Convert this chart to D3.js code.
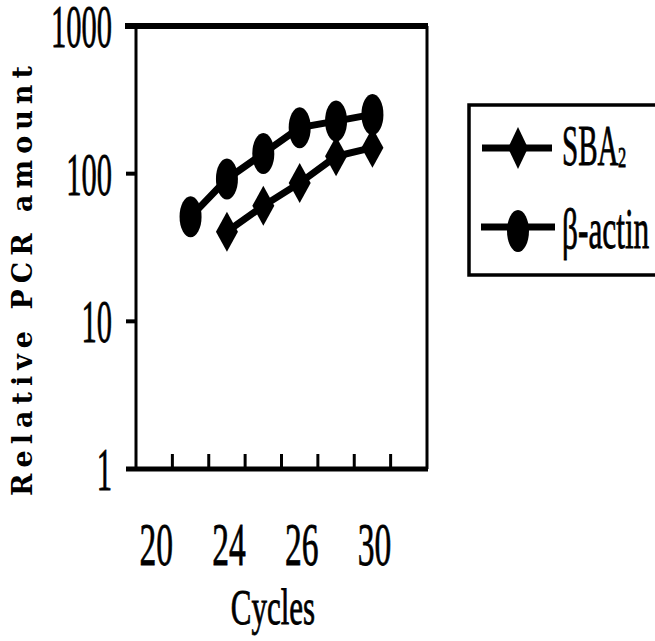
<!DOCTYPE html>
<meta charset="utf-8">
<style>
  body { margin: 0; background: #fff; }
  text { font-family: "Liberation Serif", "Times New Roman", serif; fill: #000; }
</style>
<svg width="655" height="641"></svg>
<script src="https://cdn.jsdelivr.net/npm/d3@7"></script>
<script>

var cycles = ["20", "22", "24", "25", "26", "28", "30", "32"];
var cycleLabels = ["20", "24", "26", "30"];
var yTicks = [1, 10, 100, 1000];

var actinCycles = ["22", "24", "25", "26", "28", "30"];
var actinValues = [51, 92, 137, 205, 227, 252];

var sbaCycles = ["24", "25", "26", "28", "30"];
var sbaValues = [40.5, 60.6, 86.5, 131, 150];

var svg = d3.select("svg");

var plotLeft = 136, plotRight = 427, plotTop = 26, plotBottom = 469;

var x = d3.scaleBand().domain(cycles).range([plotLeft, plotRight]).padding(0);
var y = d3.scaleLog().domain([1, 1000]).range([plotBottom, plotTop]);

// squeezed serif text, like the scanned figure
function narrowText(g, px, py, str, size, sx, anchor) {
  return g.append("text")
    .attr("transform", "translate(" + px + "," + py + ") scale(" + sx + ",1)")
    .attr("text-anchor", anchor || "middle")
    .style("font-size", size + "px")
    .style("stroke", "#000").style("stroke-width", 0.8)
    .text(str);
}

// frame
svg.append("line").attr("x1", plotLeft - 11).attr("x2", plotRight + 1).attr("y1", plotTop).attr("y2", plotTop)
  .attr("stroke", "#000").attr("stroke-width", 6);
svg.append("line").attr("x1", plotRight).attr("x2", plotRight).attr("y1", plotTop).attr("y2", plotBottom)
  .attr("stroke", "#000").attr("stroke-width", 3);
svg.append("line").attr("x1", plotLeft).attr("x2", plotLeft).attr("y1", plotTop).attr("y2", plotBottom)
  .attr("stroke", "#000").attr("stroke-width", 3);
svg.append("line").attr("x1", plotLeft - 10).attr("x2", plotRight + 1).attr("y1", plotBottom).attr("y2", plotBottom)
  .attr("stroke", "#000").attr("stroke-width", 5);

// x ticks between categories, pointing up
var xTickPos = cycles.slice(1).map(function(c) { return x(c); });
svg.selectAll(".xt").data(xTickPos).enter().append("line")
  .attr("x1", function(d) { return d; }).attr("x2", function(d) { return d; })
  .attr("y1", plotBottom).attr("y2", plotBottom - 15)
  .attr("stroke", "#000").attr("stroke-width", 3);

// y ticks
svg.selectAll(".yt").data(yTicks).enter().append("line")
  .attr("x1", plotLeft - 10).attr("x2", plotLeft)
  .attr("y1", function(d) { return y(d); }).attr("y2", function(d) { return y(d); })
  .attr("stroke", "#000").attr("stroke-width", 4);

yTicks.forEach(function(v) {
  narrowText(svg, 112, y(v) + 21, String(v), 61, 0.5, "end");
});

cycleLabels.forEach(function(c) {
  narrowText(svg, x(c) + x.bandwidth() / 2 + 2, 565, c, 61, 0.55, "middle");
});

narrowText(svg, 273, 624, "Cycles", 50, 0.62, "middle");

svg.append("text")
  .attr("transform", "translate(32,281) rotate(-90)")
  .attr("text-anchor", "middle")
  .attr("textLength", 430)
  .attr("lengthAdjust", "spacing")
  .style("font-family", "'DejaVu Serif', serif")
  .style("font-size", "27px")
  .style("font-weight", "bold")
  .text("Relative PCR amount");

var cx = function(c) { return x(c) + x.bandwidth() / 2; };
var line = d3.line().x(function(d) { return cx(d[0]); }).y(function(d) { return y(d[1]); });

var actin = d3.zip(actinCycles, actinValues);
var sba = d3.zip(sbaCycles, sbaValues);

function diamond(w, h) {
  return "M0," + (-h) + "L" + w + ",0L0," + h + "L" + (-w) + ",0Z";
}

svg.append("path").datum(sba).attr("d", line)
  .attr("fill", "none").attr("stroke", "#000").attr("stroke-width", 7);
svg.selectAll(".sba").data(sba).enter().append("path")
  .attr("transform", function(d) { return "translate(" + cx(d[0]) + "," + y(d[1]) + ")"; })
  .attr("d", diamond(11, 20)).attr("fill", "#000");

svg.append("path").datum(actin).attr("d", line)
  .attr("fill", "none").attr("stroke", "#000").attr("stroke-width", 7);
svg.selectAll(".actin").data(actin).enter().append("ellipse")
  .attr("cx", function(d) { return cx(d[0]); })
  .attr("cy", function(d) { return y(d[1]); })
  .attr("rx", 11).attr("ry", 20.5)
  .attr("fill", "#000");

// legend
var lg = svg.append("g");
lg.append("rect").attr("x", 469).attr("y", 105).attr("width", 260).attr("height", 170)
  .attr("fill", "none").attr("stroke", "#000").attr("stroke-width", 3.5);

lg.append("line").attr("x1", 482).attr("x2", 552).attr("y1", 148).attr("y2", 148)
  .attr("stroke", "#000").attr("stroke-width", 7);
lg.append("path").attr("transform", "translate(518,148)").attr("d", diamond(10, 21)).attr("fill", "#000");
narrowText(lg, 562, 165, "SBA", 57, 0.51, "start");
narrowText(lg, 618, 167, "2", 30, 0.55, "start");

lg.append("line").attr("x1", 481).attr("x2", 555).attr("y1", 227).attr("y2", 227)
  .attr("stroke", "#000").attr("stroke-width", 7);
lg.append("ellipse").attr("cx", 518).attr("cy", 231).attr("rx", 11).attr("ry", 21).attr("fill", "#000");
narrowText(lg, 562, 248, "β-actin", 57, 0.55, "start");

</script>
